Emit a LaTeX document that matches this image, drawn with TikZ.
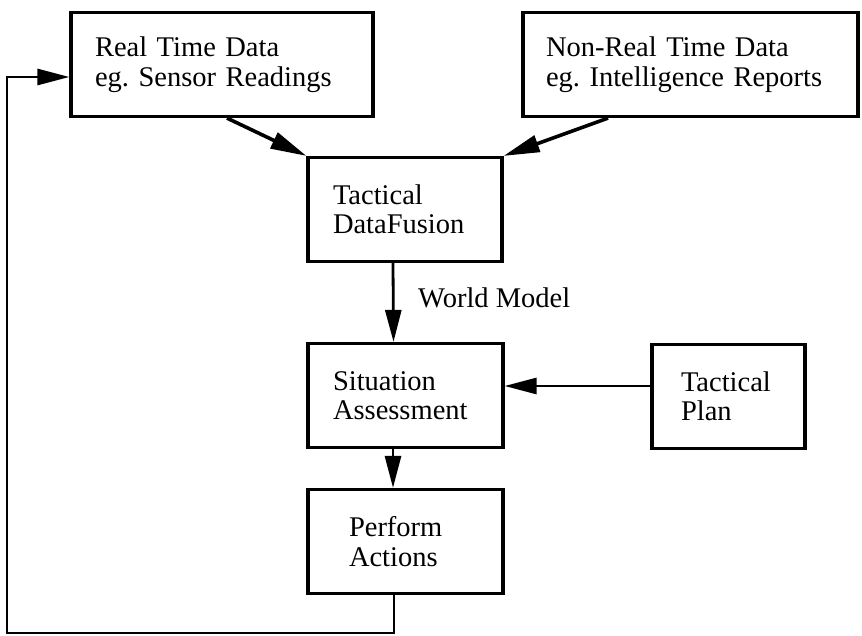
\documentclass[tikz,border=0pt]{standalone}
\usepackage{fontspec}
\setmainfont{Liberation Serif}
\usetikzlibrary{arrows.meta,calc}
\frenchspacing
\begin{document}
\begin{tikzpicture}[x=1pt,y=-1pt,
  blk/.style={draw, line width=3.2pt, minimum height=104pt, align=left,
              inner ysep=0pt, font=\fontsize{28.5}{29.5}\selectfont},
  lbl/.style={font=\fontsize{28.5}{29.5}\selectfont, inner sep=0pt},
  arr/.style={line width=2.8pt, -{Triangle[length=32pt,width=16pt]}},
  darr/.style={line width=3.6pt, -{Triangle[length=36pt,width=17pt]}}]
\useasboundingbox (0,0) rectangle (862,636);

% sources
\node[blk, text width=254pt, inner xsep=24pt] (rt)  at (222,64.5)  {Real Time Data\\eg. Sensor Readings};
\node[blk, text width=289pt, inner xsep=23pt] (nrt) at (690.5,64.5) {Non-Real Time Data\\eg. Intelligence Reports};

% processing chain
\node[blk, text width=144pt, inner xsep=25pt] (tdf) at (405,209.5)   {Tactical\\DataFusion};
\node[blk, text width=145pt, inner xsep=25pt] (sa)  at (405.5,395.5) {Situation\\Assessment};
\node[blk, text width=113pt, inner xsep=41pt] (pa)  at (405.5,541.5) {Perform\\Actions};
\node[blk, text width=95pt,  inner xsep=29pt] (tp)  at (728.5,396.5) {Tactical\\Plan};

% data flow
\draw[darr] ([xshift=5pt]rt.south) -- (tdf.north west);
\draw[darr] ([xshift=-82.5pt]nrt.south) -- (tdf.north east);
\draw[arr] ([xshift=-12pt]tdf.south) -- ([xshift=-12pt]sa.north);
\node[lbl, anchor=base west] (wm) at (418,308) {World Model};
\draw[arr] ([xshift=-12.5pt]sa.south) -- ([xshift=-12.5pt]pa.north);
\draw[arr] ([yshift=10.5pt]tp.west) -- ([yshift=10.5pt]tp.west -| sa.east);

% feedback loop
\coordinate (fb) at (7,633);
\draw[arr] ([xshift=-11.5pt]pa.south) |- (fb) |- ([yshift=-12.5pt]rt.west);
\end{tikzpicture}
\end{document}
